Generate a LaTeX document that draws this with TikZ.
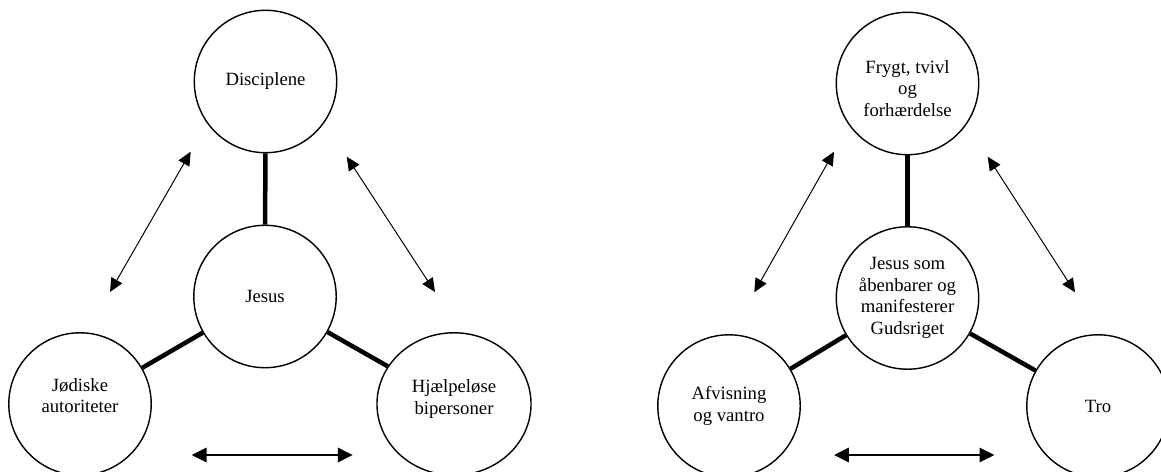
\documentclass[tikz,border=0pt]{standalone}
\usepackage{fontspec}
\setmainfont{Liberation Serif}
\usetikzlibrary{arrows.meta, shapes.geometric}
\tikzset{
  themecircle/.style={
    circle,
    draw=black, line width=1pt, fill=white,
    minimum size=3.56cm, inner sep=0pt,
    align=center, font=\fontsize{13.3}{15.4}\selectfont
  },
  themeoval/.style={
    themecircle, ellipse,
    minimum width=3.85cm, minimum height=3.56cm
  },
  spoke/.style={
    line width=3.2pt, color=black
  },
  relarrow/.style={
    {Triangle[length=3.4mm,width=3.1mm]}-{Triangle[length=3.4mm,width=3.1mm]},
    line width=0.7pt, color=black
  },
  baserel/.style={
    {Triangle[length=3.7mm,width=3.6mm]}-{Triangle[length=3.7mm,width=3.6mm]},
    line width=1.3pt, color=black
  }
}
\begin{document}
\begin{tikzpicture}[x=0.025cm, y=-0.025cm]
  \useasboundingbox (0,0) rectangle (1161,472);

  % persons
  \node[themecircle] (disc)  at (265.5,81.5) {Disciplene};
  \node[themecircle] (jesus) at (265,296.5)  {Jesus};
  \node[themecircle] (jod)   at (80,404)
    {\raisebox{0.3mm}[0pt][0pt]{\begin{tabular}{@{}c@{}}Jødiske\\autoriteter\end{tabular}}};
  \node[themeoval]   (hjael) at (454,404)
    {\raisebox{0mm}[0pt][0pt]{\begin{tabular}{@{}c@{}}Hjælpeløse\\bipersoner\end{tabular}}};

  \draw[spoke] (jesus) -- (disc);
  \draw[spoke] (jesus) -- (jod);
  \draw[spoke] (jesus) -- (hjael);

  \coordinate (dj1) at (190.7,151.7);
  \coordinate (dj2) at (110,292);
  \coordinate (dh1) at (346.7,156.7);
  \coordinate (dh2) at (435,292);
  \coordinate (jh1) at (191.7,455);
  \coordinate (jh2) at (352.7,455);

  \draw[relarrow] (dj1) -- (dj2);
  \draw[relarrow] (dh1) -- (dh2);
  \draw[baserel]  (jh1) -- (jh2);

  % responses
  \node[themecircle] (frygt) at (907.5,83.5)
    {\raisebox{-3mm}[0pt][0pt]{\begin{tabular}{@{}c@{}}Frygt, tvivl\\og\\forhærdelse\end{tabular}}};
  \node[themecircle] (gud)   at (907.5,298)  {Jesus som\\åbenbarer og\\manifesterer\\Gudsriget};
  \node[themecircle] (afv)   at (729,406)    {Afvisning\\og vantro};
  \node[themecircle] (tro)   at (1098,406)   {Tro};

  \draw[spoke] (gud) -- (frygt);
  \draw[spoke] (gud) -- (afv);
  \draw[spoke] (gud) -- (tro);

  \coordinate (fa1) at (834,151.7);
  \coordinate (fa2) at (754.3,292.3);
  \coordinate (ft1) at (987.7,156.7);
  \coordinate (ft2) at (1075,292.3);
  \coordinate (at1) at (834,455);
  \coordinate (at2) at (994.3,455);

  \draw[relarrow] (fa1) -- (fa2);
  \draw[relarrow] (ft1) -- (ft2);
  \draw[baserel]  (at1) -- (at2);
\end{tikzpicture}
\end{document}
